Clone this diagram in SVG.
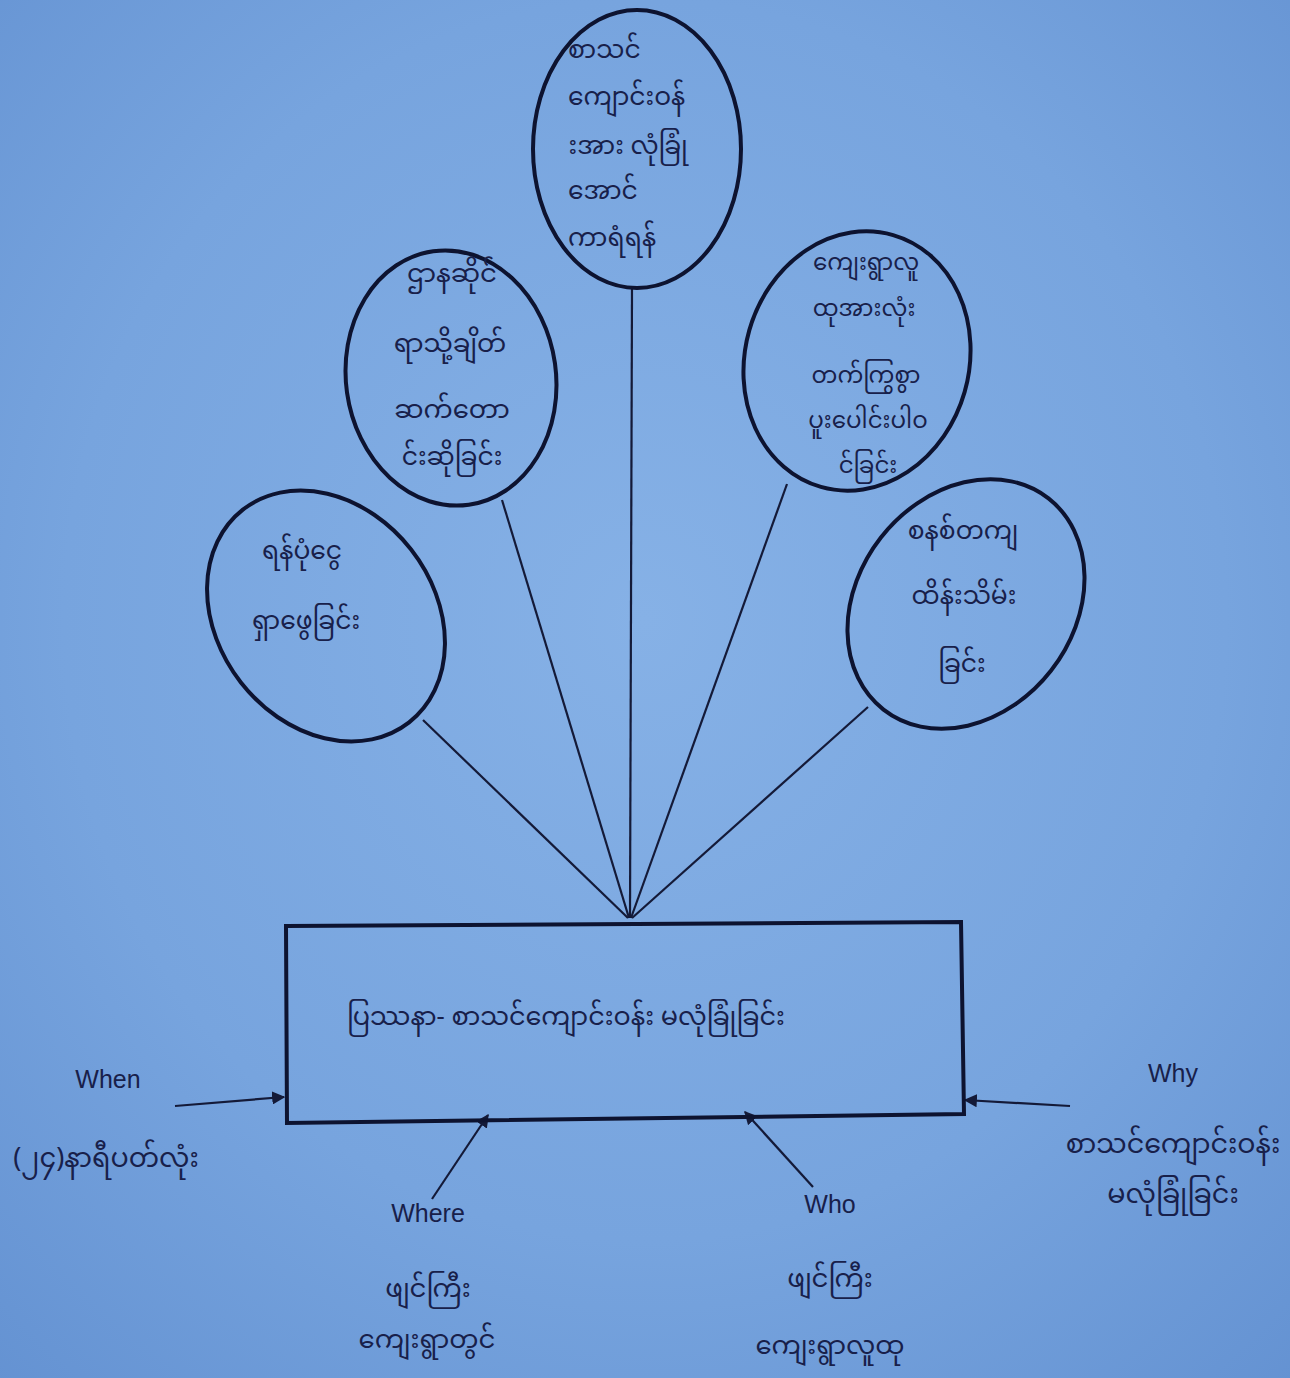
<svg xmlns="http://www.w3.org/2000/svg" width="1290" height="1378" viewBox="0 0 1290 1378">
<style>
.bg{fill:url(#bgGrad)}
.node{fill:none;stroke:#0d1330;stroke-width:4}
.mm{font-family:"Noto Sans Myanmar","Padauk","Myanmar Text","Noto Sans",sans-serif;font-size:24px;fill:#18204a}
.en{font-family:"Liberation Sans","Noto Sans",sans-serif;font-size:25px;fill:#18204a}
.c{text-anchor:middle}
.conn line{stroke:#141a38;stroke-width:2.2}
.arr{marker-end:url(#ah)}
</style>
<defs>
<radialGradient id="bgGrad" cx="0.5" cy="0.45" r="0.75">
<stop offset="0" stop-color="#86b1e6"/>
<stop offset="0.6" stop-color="#77a4de"/>
<stop offset="1" stop-color="#6492d2"/>
</radialGradient>
<marker id="ah" viewBox="0 0 10 10" refX="9" refY="5" markerWidth="6" markerHeight="6" orient="auto" markerUnits="strokeWidth">
<path d="M0,0 L10,5 L0,10 z" fill="#141a38"/>
</marker>
</defs>
<rect class="bg" x="0" y="0" width="1290" height="1378"/>

<g id="connectors" class="conn">
<line x1="632" y1="288" x2="630" y2="918"/>
<line x1="502" y1="500" x2="629" y2="918"/>
<line x1="787" y1="484" x2="631" y2="918"/>
<line x1="423" y1="720" x2="628" y2="918"/>
<line x1="868" y1="707" x2="632" y2="918"/>
<line class="arr" x1="175" y1="1106" x2="284" y2="1097"/>
<line class="arr" x1="1070" y1="1106" x2="965" y2="1100"/>
<line class="arr" x1="432" y1="1199" x2="488" y2="1115"/>
<line class="arr" x1="813" y1="1187" x2="745" y2="1112"/>
</g>

<g id="node-top">
<ellipse class="node" cx="637" cy="149" rx="104" ry="139"/>
<text class="mm" x="568" y="58" style="font-size:25px">စာသင်</text>
<text class="mm" x="568" y="105" style="font-size:25px">ကျောင်းဝန်</text>
<text class="mm" x="562" y="154" style="font-size:25px">&#160;းအား လုံခြုံ</text>
<text class="mm" x="568" y="199" style="font-size:25px">အောင်</text>
<text class="mm" x="568" y="246" style="font-size:25px">ကာရံရန်</text>
</g>

<g id="node-left-mid">
<ellipse class="node" cx="451" cy="378" rx="105" ry="128" transform="rotate(-8 451 378)"/>
<text class="mm c" x="452" y="282" style="font-size:26px">ဌာနဆိုင်</text>
<text class="mm c" x="450" y="352" style="font-size:26px">ရာသို့ချိတ်</text>
<text class="mm c" x="452" y="418" style="font-size:26px">ဆက်တော</text>
<text class="mm c" x="452" y="465" style="font-size:25px">င်းဆိုခြင်း</text>
</g>

<g id="node-right-up">
<ellipse class="node" cx="857" cy="361" rx="112" ry="131" transform="rotate(16 857 361)"/>
<text class="mm c" x="866" y="270" style="font-size:23px">ကျေးရွာလူ</text>
<text class="mm c" x="864" y="316" style="font-size:23px">ထုအားလုံး</text>
<text class="mm c" x="866" y="383" style="font-size:23px">တက်ကြွစွာ</text>
<text class="mm c" x="868" y="428" style="font-size:23px">ပူးပေါင်းပါဝ</text>
<text class="mm c" x="868" y="473" style="font-size:23px">င်ခြင်း</text>
</g>

<g id="node-left-low">
<ellipse class="node" cx="326" cy="616" rx="108" ry="135" transform="rotate(-38 326 616)"/>
<text class="mm c" x="302" y="559" style="font-size:25px">ရန်ပုံငွေ</text>
<text class="mm c" x="306" y="629" style="font-size:25px">ရှာဖွေခြင်း</text>
</g>

<g id="node-right-low">
<ellipse class="node" cx="966" cy="604" rx="108" ry="134" transform="rotate(38 966 604)"/>
<text class="mm c" x="963" y="539" style="font-size:25px">စနစ်တကျ</text>
<text class="mm c" x="964" y="604" style="font-size:25px">ထိန်းသိမ်း</text>
<text class="mm c" x="962" y="672" style="font-size:25px">ခြင်း</text>
</g>

<g id="node-problem">
<polygon class="node" points="286,926 961,922 964,1114 287,1123"/>
<text class="mm" x="347" y="1025" style="font-size:25.5px">ပြဿနာ- စာသင်ကျောင်းဝန်း မလုံခြုံခြင်း</text>
</g>

<g id="label-when">
<text class="en c" x="108" y="1088">When</text>
<text class="mm c" x="106" y="1167" style="font-size:27px">(၂၄)နာရီပတ်လုံး</text>
</g>

<g id="label-where">
<text class="en c" x="428" y="1222">Where</text>
<text class="mm c" x="428" y="1297" style="font-size:26px">ဖျင်ကြီး</text>
<text class="mm c" x="427" y="1348" style="font-size:26px">ကျေးရွာတွင်</text>
</g>

<g id="label-who">
<text class="en c" x="830" y="1213">Who</text>
<text class="mm c" x="830" y="1287" style="font-size:26px">ဖျင်ကြီး</text>
<text class="mm c" x="830" y="1354" style="font-size:26px">ကျေးရွာလူထု</text>
</g>

<g id="label-why">
<text class="en c" x="1173" y="1082">Why</text>
<text class="mm c" x="1173" y="1153" style="font-size:27px">စာသင်ကျောင်းဝန်း</text>
<text class="mm c" x="1173" y="1203" style="font-size:27px">မလုံခြုံခြင်း</text>
</g>
</svg>
